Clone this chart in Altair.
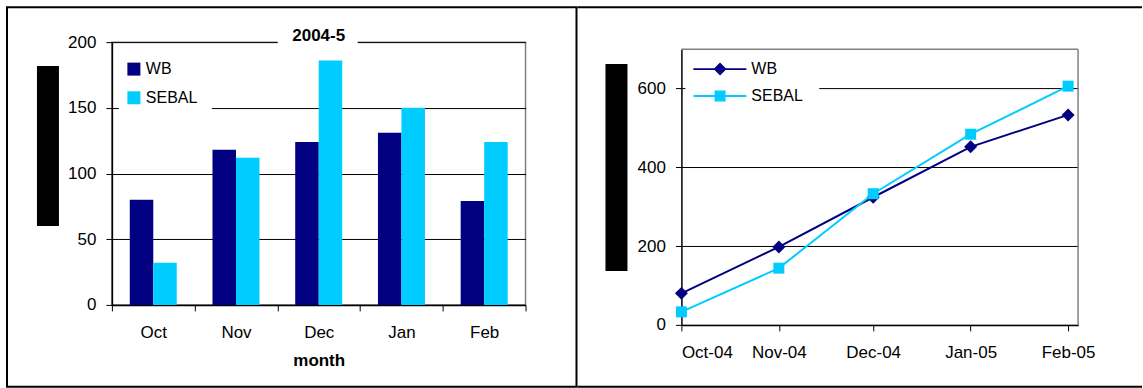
import altair as alt
import pandas as pd

# Monthly and cumulative evapotranspiration, water balance (WB) vs SEBAL, 2004-5 season
months = ["Oct", "Nov", "Dec", "Jan", "Feb"]
series_names = ["WB", "SEBAL"]
wb_monthly = [80, 118, 124, 131, 79]
sebal_monthly = [32, 112, 186, 150, 124]

month_dates = ["2004-10-01T00:00:00", "2004-11-01T00:00:00", "2004-12-01T00:00:00",
               "2005-01-01T00:00:00", "2005-02-01T00:00:00"]
wb_cumulative = [80, 198, 324, 452, 533]
sebal_cumulative = [33, 144, 333, 484, 606]

colors = ["#000080", "#00CCFF"]
marker_shapes = ["diamond", "square"]
marker_sizes = [169, 121]
FONT = "Liberation Sans"
panel_title = "2004-5"

monthly = pd.DataFrame({
    "month": months * 2,
    "series": ["WB"] * 5 + ["SEBAL"] * 5,
    "value": wb_monthly + sebal_monthly,
})
cumulative = pd.DataFrame({
    "date": month_dates * 2,
    "series": ["WB"] * 5 + ["SEBAL"] * 5,
    "value": wb_cumulative + sebal_cumulative,
})
one_row = pd.DataFrame({"k": [0]})

color_scale = alt.Scale(domain=series_names, range=colors)

# ---------------- left panel: monthly bars ----------------
LW, LH = 414, 263

bars = alt.Chart(monthly).mark_bar().encode(
    x=alt.X("month:N", sort=months,
            scale=alt.Scale(paddingInner=0, paddingOuter=0),
            axis=alt.Axis(title="month", labelAngle=0, tickBand="extent",
                          labelPadding=14, titleY=61, titleBaseline="alphabetic",
                          titleFont=FONT, titleFontSize=17, titleFontWeight="bold",
                          titleColor="black")),
    xOffset=alt.XOffset("series:N", sort=series_names,
                        scale=alt.Scale(paddingInner=0, paddingOuter=0.76)),
    y=alt.Y("value:Q", scale=alt.Scale(domain=[0, 200], nice=False),
            axis=alt.Axis(title=None, values=[0, 50, 100, 150, 200], labelPadding=10)),
    color=alt.Color("series:N", scale=color_scale, sort=series_names,
                    legend=alt.Legend(title=None, orient="none", legendX=14, legendY=19,
                                      symbolType="square", symbolSize=169,
                                      symbolStrokeWidth=0, labelFontSize=16,
                                      labelFont=FONT, labelColor="black",
                                      labelOffset=4, rowPadding=12.7, padding=0)),
)

left_legend_box = alt.Chart(one_row).mark_rect(color="white").encode(
    x=alt.value(7), x2=alt.value(100), y=alt.value(10), y2=alt.value(75))
left_title_box = alt.Chart(one_row).mark_rect(color="white").encode(
    x=alt.value(166), x2=alt.value(246), y=alt.value(-3), y2=alt.value(3))
left_title = alt.Chart(one_row).mark_text(
    text=panel_title, font=FONT, fontSize=17, fontWeight="bold", color="black",
    align="center", baseline="alphabetic").encode(x=alt.value(207), y=alt.value(-1))
left_label_block = alt.Chart(one_row).mark_rect(color="black").encode(
    x=alt.value(-75), x2=alt.value(-53), y=alt.value(24), y2=alt.value(184))
left_frame = alt.Chart(one_row).mark_rect(fillOpacity=0, stroke="black", strokeWidth=2).encode(
    x=alt.value(-105), x2=alt.value(465), y=alt.value(-35), y2=alt.value(345))

left = alt.layer(left_legend_box, bars, left_title_box, left_title,
                 left_label_block, left_frame).properties(width=LW, height=LH)

# ---------------- right panel: cumulative lines ----------------
# The panel shares its top edge with the left one; the y range starts 7 px lower,
# so the value axis runs from 0 to 700 inside a 276 px tall plot frame.
RW, RH, RTOP = 397, 283, 7

# legend glyphs: a line segment with the series marker on it
wb_symbol = ("M-6.57,-0.14L1,-0.14L1,0.14L-6.57,0.14Z"
             "M-2.76,-0.93L-1.83,0L-2.76,0.93L-3.69,0Z")
sebal_symbol = ("M-6.57,-0.14L1,-0.14L1,0.14L-6.57,0.14Z"
                "M-3.55,-0.79L-1.97,-0.79L-1.97,0.79L-3.55,0.79Z")

x_time = alt.X("date:T",
               scale=alt.Scale(domain=[alt.DateTime(year=2004, month=10, date=1),
                                       alt.DateTime(year=2005, month=2, date=4, hours=4)]),
               axis=alt.Axis(title=None, format="%b-%y", grid=False, labelPadding=14,
                             values=[alt.DateTime(year=2004, month=10, date=1),
                                     alt.DateTime(year=2004, month=11, date=1),
                                     alt.DateTime(year=2004, month=12, date=1),
                                     alt.DateTime(year=2005, month=1, date=1),
                                     alt.DateTime(year=2005, month=2, date=1)]))
y_cum = alt.Y("value:Q", scale=alt.Scale(domain=[0, 700], nice=False, range=[RH, RTOP]),
              axis=alt.Axis(title=None, values=[0, 200, 400, 600], labelPadding=10))

series_layers = []
for name, col, shp, sz in zip(series_names, colors, marker_shapes, marker_sizes):
    base = alt.Chart(cumulative).transform_filter(alt.datum.series == name)
    series_layers.append(base.mark_line(strokeWidth=2, color=col).encode(x=x_time, y=y_cum))
    series_layers.append(base.mark_point(filled=True, opacity=1, color=col, shape=shp,
                                         size=sz).encode(x=x_time, y=y_cum))

# empty layer whose only job is the line-and-marker legend
line_legend = alt.Legend(title=None, orient="none", legendX=50, legendY=19,
                         symbolSize=196, symbolStrokeWidth=0, symbolOpacity=1,
                         labelFontSize=16, labelFont=FONT, labelColor="black",
                         labelOffset=4, rowPadding=11, padding=0)
legend_only = alt.Chart(cumulative).transform_filter("false").mark_point(
    filled=True, opacity=1).encode(
    x=x_time, y=y_cum,
    color=alt.Color("series:N", scale=color_scale, sort=series_names, legend=line_legend),
    shape=alt.Shape("series:N", sort=series_names,
                    scale=alt.Scale(domain=series_names, range=[wb_symbol, sebal_symbol]),
                    legend=line_legend),
)

right_legend_box = alt.Chart(one_row).mark_rect(color="white").encode(
    x=alt.value(4), x2=alt.value(138), y=alt.value(12), y2=alt.value(67))
right_top_border = alt.Chart(one_row).mark_rule(color="#808080", strokeWidth=1.5).encode(
    x=alt.value(0), x2=alt.value(RW), y=alt.value(RTOP))
right_side_border = alt.Chart(one_row).mark_rule(color="#808080", strokeWidth=1.5).encode(
    x=alt.value(RW), y=alt.value(RTOP), y2=alt.value(RH))
right_label_block = alt.Chart(one_row).mark_rect(color="black").encode(
    x=alt.value(-76), x2=alt.value(-54), y=alt.value(22), y2=alt.value(229))
right_top = alt.Chart(one_row).mark_rule(color="black", strokeWidth=2).encode(
    x=alt.value(-104), x2=alt.value(461), y=alt.value(-35))
right_bottom = alt.Chart(one_row).mark_rule(color="black", strokeWidth=2).encode(
    x=alt.value(-104), x2=alt.value(461), y=alt.value(345))

right = alt.layer(right_top_border, right_side_border, right_legend_box,
                  *series_layers, legend_only,
                  right_label_block, right_top, right_bottom).properties(
    width=RW, height=RH, view=alt.ViewBackground(strokeOpacity=0))

chart = alt.hconcat(left, right, spacing=-2).resolve_scale(
    color="independent", x="independent", y="independent", shape="independent",
).resolve_legend(
    color="independent", shape="independent",
).properties(
    padding={"left": 5, "top": 5, "right": 0, "bottom": 0},
    background="white",
).configure_view(
    stroke="#808080", strokeWidth=1.5,
).configure_axis(
    labelFont=FONT, labelFontSize=17, labelColor="black",
    domainColor="black", domainWidth=1.5,
    tickColor="black", tickSize=6, tickWidth=1,
    gridColor="black", gridWidth=1,
)

chart.save("out.html", embed_options={"renderer": "svg", "actions": False})
